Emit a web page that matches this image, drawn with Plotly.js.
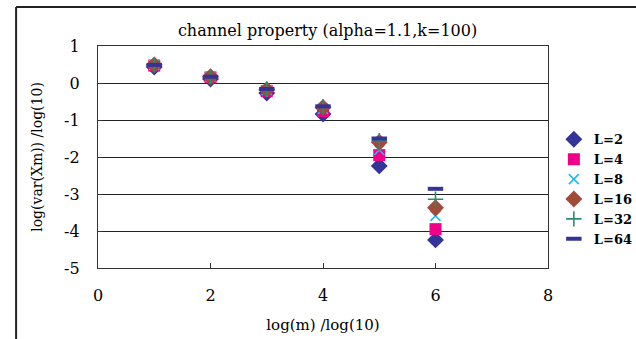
<!DOCTYPE html>
<html>
<head>
<meta charset="utf-8">
<script src="https://cdn.plot.ly/plotly-3.0.1.min.js"></script>
<style>html,body{margin:0;padding:0;background:#fff;}#chart{width:636px;height:339px;}</style>
</head>
<body>
<div id="chart"></div>
<script>
const xValues = [1, 2, 3, 4, 5, 6];
const seriesNames = ["L=2", "L=4", "L=8", "L=16", "L=32", "L=64"];
const L2 = [0.43, 0.11, -0.27, -0.84, -2.24, -4.24];
const L4 = [0.47, 0.15, -0.22, -0.76, -1.95, -3.95];
const L8 = [0.49, 0.17, -0.19, -0.70, -1.81, -3.59];
const L16 = [0.49, 0.17, -0.18, -0.66, -1.60, -3.37];
const L32 = [0.49, 0.17, -0.17, -0.65, -1.56, -3.14];
const L64 = [0.49, 0.17, -0.16, -0.63, -1.50, -2.86];
const xTicks = [0, 2, 4, 6, 8];
const yTicks = [-5, -4, -3, -2, -1, 0, 1];

const styles = [
  {symbol: "diamond", color: "#333399", size: 13, line: {width: 0}},
  {symbol: "square", color: "#EE0088", size: 12, line: {width: 0}},
  {symbol: "x-thin", color: "#22BBEE", size: 10, line: {width: 1.6, color: "#22BBEE"}},
  {symbol: "diamond", color: "#A04A3A", size: 13, line: {width: 0}},
  {symbol: "cross-thin", color: "#2E8B70", size: 11, line: {width: 1.6, color: "#2E8B70"}},
  {symbol: "line-ew", color: "#333399", size: 11, line: {width: 4, color: "#333399"}}
];
const allY = [L2, L4, L8, L16, L32, L64];

const traces = allY.map((ys, i) => ({
  type: "scatter",
  mode: "markers",
  name: seriesNames[i],
  x: xValues,
  y: ys,
  marker: styles[i]
}));

const serif = "DejaVu Serif, Liberation Serif, serif";
const layout = {
  width: 636, height: 339,
  margin: {l: 98, r: 88, t: 46, b: 71, autoexpand: false},
  paper_bgcolor: "#fff", plot_bgcolor: "#fff",
  title: {text: "channel property (alpha=1.1,k=100)", font: {family: serif, size: 16, color: "#000"}, x: 0.515, xanchor: "center", y: 0.91, yanchor: "middle"},
  xaxis: {
    range: [0, 8], tickvals: xTicks, ticktext: xTicks.map(String),
    showgrid: false, zeroline: false, showline: true, linecolor: "#333", linewidth: 1.2, mirror: true,
    ticks: "inside", ticklen: 5, tickcolor: "#333", ticklabelstandoff: 13,
    tickfont: {family: serif, size: 16, color: "#000"},
    title: {text: "log(m) /log(10)", font: {family: serif, size: 15, color: "#000"}, standoff: 15}
  },
  yaxis: {
    range: [-5, 1], tickvals: yTicks, ticktext: yTicks.map(String),
    showgrid: true, gridcolor: "#222", gridwidth: 1, zeroline: false,
    showline: true, linecolor: "#333", linewidth: 1.2, mirror: true,
    ticks: "inside", ticklen: 5, tickcolor: "#333", ticklabelstandoff: 14,
    tickfont: {family: serif, size: 16, color: "#000"},
    title: {text: "log(var(Xm)) /log(10)", font: {family: serif, size: 14, color: "#000"}, standoff: 18}
  },
  legend: {
    x: 1.013, xanchor: "left", y: 0.647, yanchor: "top",
    font: {family: serif, size: 13, color: "#000", weight: "bold"},
    tracegroupgap: 0, itemwidth: 30, bgcolor: "rgba(0,0,0,0)"
  },
  showlegend: true,
  shapes: [
    {type: "line", xref: "paper", yref: "paper", x0: -0.182, x1: -0.182, y0: 1.176, y1: -0.35, line: {color: "#222", width: 2}},
    {type: "line", xref: "paper", yref: "paper", x0: -0.182, x1: 1.2, y0: 1.176, y1: 1.176, line: {color: "#222", width: 2}}
  ]
};
Plotly.newPlot("chart", traces, layout, {displayModeBar: false, staticPlot: true});
</script>
</body>
</html>
